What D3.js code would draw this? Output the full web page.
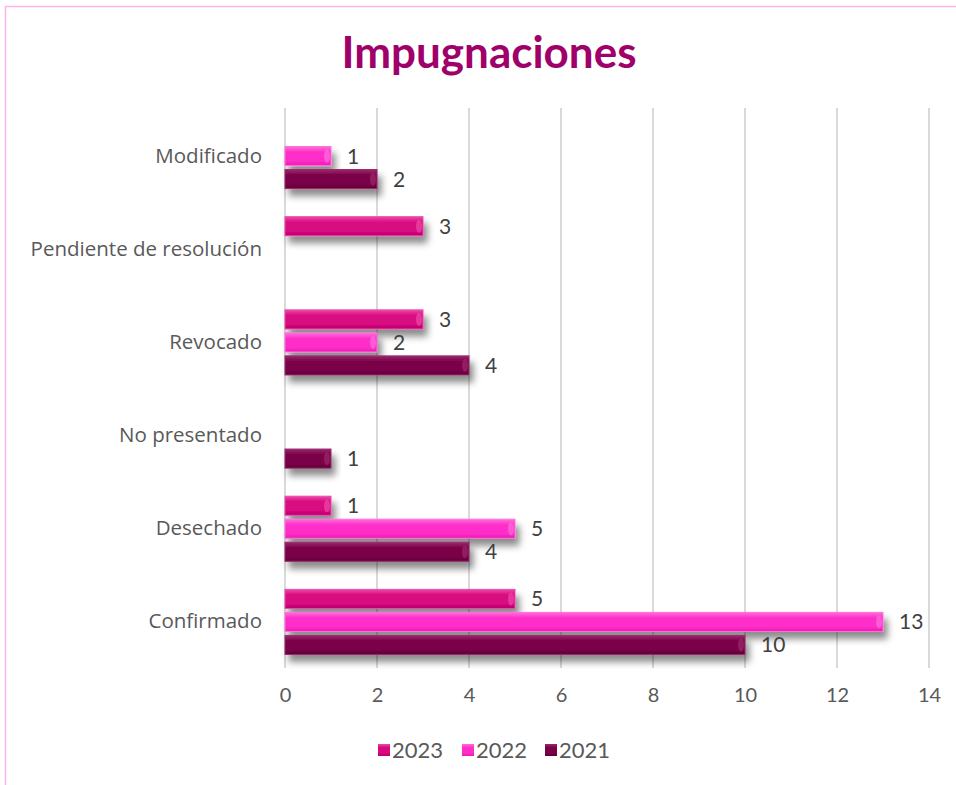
<!DOCTYPE html>
<html><head><meta charset="utf-8">
<script src="https://cdn.jsdelivr.net/npm/d3@7/dist/d3.min.js"></script>
<style>body{margin:0;background:#fff;}svg{display:block;font-family:"Lato","Open Sans",sans-serif;}</style>
</head><body>
<script>
const categories = ["Modificado","Pendiente de resolución","Revocado","No presentado","Desechado","Confirmado"];
const seriesNames = ["2023","2022","2021"];
const v2023 = [null, 3, 3, null, 1, 5];
const v2022 = [1, null, 2, null, 5, 13];
const v2021 = [2, null, 4, 1, 4, 10];
const xTicks = [0,2,4,6,8,10,12,14];
const seriesValues = [v2023, v2022, v2021];
const colors = ["#d8087f","#ff2ec8","#7a0047"];
const colorsLight = ["#ec4aa8","#ff6fdc","#9a2a6c"];
const colorsDark = ["#b8006c","#e81cb0","#5e0035"];

const W=956,H=785;
const svg=d3.select("body").append("svg").attr("width",W).attr("height",H);
const defs=svg.append("defs");
seriesNames.forEach((s,i)=>{
  const g=defs.append("linearGradient").attr("id","g"+i).attr("x1",0).attr("y1",0).attr("x2",0).attr("y2",1);
  g.append("stop").attr("offset","0%").attr("stop-color",colorsLight[i]);
  g.append("stop").attr("offset","30%").attr("stop-color",colors[i]);
  g.append("stop").attr("offset","75%").attr("stop-color",colors[i]);
  g.append("stop").attr("offset","100%").attr("stop-color",colorsDark[i]);
});
const f=defs.append("filter").attr("id","sh").attr("x","-10%").attr("y","-50%").attr("width","130%").attr("height","250%");
f.append("feDropShadow").attr("dx",4).attr("dy",7).attr("stdDeviation",3.5).attr("flood-color","#000").attr("flood-opacity",0.45);

svg.append("rect").attr("x",5.5).attr("y",6.5).attr("width",W).attr("height",H).attr("fill","none").attr("stroke","#ffb3e6").attr("stroke-width",1.5);

svg.append("text").attr("x",489).attr("y",68).attr("text-anchor","middle").attr("font-size",44).attr("font-weight","bold").attr("fill","#a0006a").text("Impugnaciones");

const x=d3.scaleLinear().domain([0,14]).range([285,929]);
const y=d3.scaleBand().domain(categories).range([109.5,668.5]).paddingInner(0).paddingOuter(0);
const yInner=d3.scaleBand().domain(seriesNames).range([0,y.bandwidth()]).paddingInner(0.17).paddingOuter(0.61);

svg.append("g").selectAll("line").data(xTicks).join("line")
  .attr("x1",d=>x(d)).attr("x2",d=>x(d)).attr("y1",108).attr("y2",668)
  .attr("stroke","#d9d9d9").attr("stroke-width",2);

const xa=svg.append("g").attr("transform","translate(0,668)").call(d3.axisBottom(x).tickValues(xTicks).tickSize(0).tickPadding(20));
xa.select(".domain").remove();
xa.selectAll("text").attr("font-size",20).attr("fill","#595959").style("font-family","Lato, 'Open Sans', sans-serif");

const ya=svg.append("g").attr("transform","translate(262,0)").call(d3.axisLeft(y).tickSize(0).tickPadding(0));
ya.select(".domain").remove();
ya.selectAll("text").attr("font-size",20.5).attr("fill","#595959").style("font-family","'Open Sans', Lato, sans-serif");

const data=[];
categories.forEach((c,ci)=>seriesNames.forEach((s,si)=>{const v=seriesValues[si][ci]; if(v!=null) data.push({c,s,si,v});}));

const bars=svg.append("g");
bars.selectAll("rect").data(data).join("rect")
  .attr("x",x(0)).attr("y",d=>y(d.c)+yInner(d.s))
  .attr("width",d=>x(d.v)-x(0)).attr("height",yInner.bandwidth())
  .attr("fill",d=>"url(#g"+d.si+")").attr("filter","url(#sh)")
  .attr("stroke",d=>colorsLight[d.si]).attr("stroke-width",1);
bars.selectAll("ellipse").data(data).join("ellipse")
  .attr("cx",d=>x(d.v)-4).attr("cy",d=>y(d.c)+yInner(d.s)+yInner.bandwidth()/2)
  .attr("rx",3).attr("ry",yInner.bandwidth()/2-3)
  .attr("fill",d=>colorsLight[d.si]).attr("opacity",0.7);

svg.append("g").selectAll("text").data(data).join("text")
  .attr("x",d=>x(d.v)+16).attr("y",d=>y(d.c)+yInner(d.s)+yInner.bandwidth()/2)
  .attr("dy","0.36em").attr("font-size",21).attr("fill","#404040").text(d=>d.v);

const lx=[378,462,545];
const lg=svg.append("g");
seriesNames.forEach((s,i)=>{
  lg.append("rect").attr("x",lx[i]).attr("y",744).attr("width",12).attr("height",12).attr("fill","url(#g"+i+")");
  lg.append("text").attr("x",lx[i]+14).attr("y",750).attr("dy","0.36em").attr("font-size",22).attr("fill","#595959").text(s);
});
</script>
</body></html>
